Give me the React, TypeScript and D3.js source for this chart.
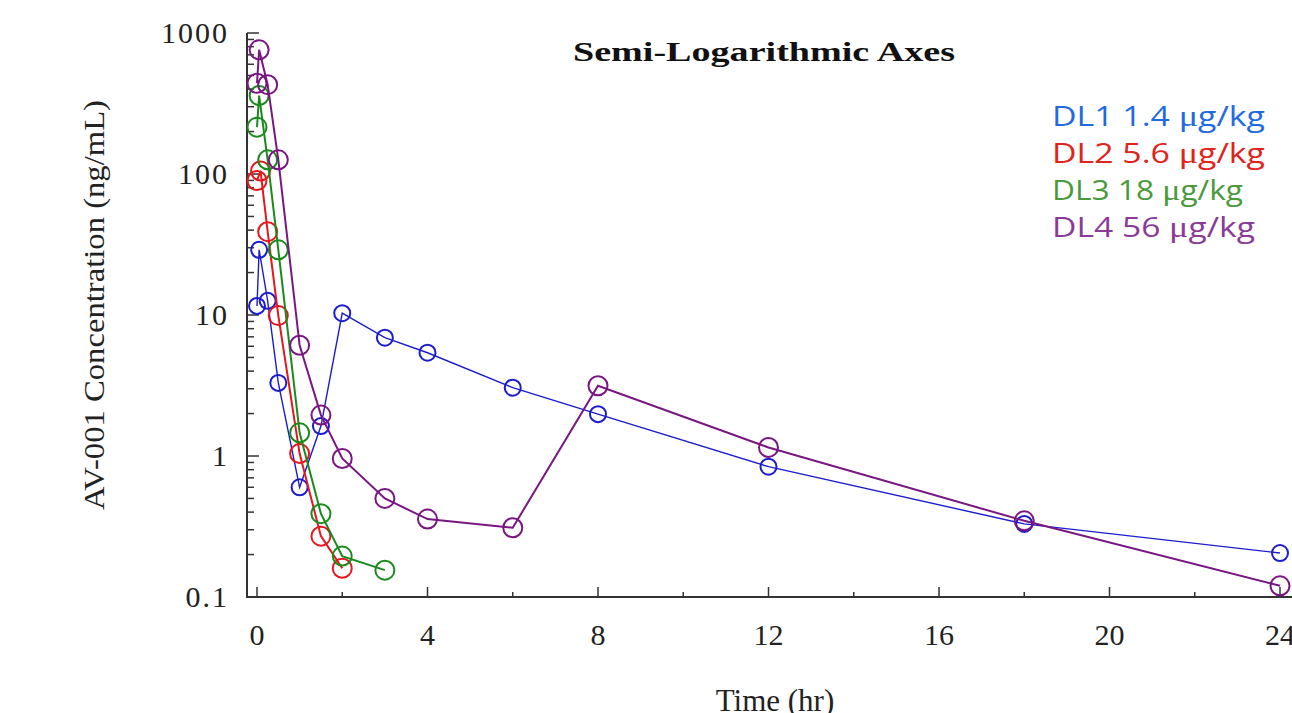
import * as d3 from "d3";

// sampling times (hr) per dose level
const timesDL1 = [0, 0.05, 0.25, 0.5, 1, 1.5, 2, 3, 4, 6, 8, 12, 18, 24];
const concDL1 = [11.6, 29, 12.6, 3.3, 0.6, 1.63, 10.3, 6.9, 5.4, 3.05, 1.98, 0.84, 0.33, 0.205];

const timesDL2 = [0, 0.083, 0.25, 0.5, 1, 1.5, 2];
const concDL2 = [90, 105, 39, 9.9, 1.04, 0.27, 0.16];

const timesDL3 = [0, 0.05, 0.25, 0.5, 1, 1.5, 2, 3];
const concDL3 = [215, 360, 126, 29, 1.46, 0.39, 0.195, 0.155];

const timesDL4 = [0, 0.05, 0.25, 0.5, 1, 1.5, 2, 3, 4, 6, 8, 12, 18, 24];
const concDL4 = [440, 760, 430, 126, 6.1, 1.95, 0.96, 0.5, 0.357, 0.31, 3.15, 1.15, 0.347, 0.12];

const seriesNames = ["DL1 1.4 ", "DL2 5.6 ", "DL3 18 ", "DL4 56 "];
const legendWidths = [213, 213, 191, 203];
const xTicks = [0, 4, 8, 12, 16, 20, 24];
const xMinorTicks = [2, 6, 10, 14, 18, 22];
const yTicks = [0.1, 1, 10, 100, 1000];

const lineColors = ["#1c1ccf", "#e3181e", "#198a1c", "#7a1682"];
const legendColors = ["#1f6be0", "#e0241c", "#4a9a3c", "#8c3a98"];

const W = 1292;
const H = 713;
const serif = "'Liberation Serif', 'Times New Roman', serif";
const sans = "'Open Sans', 'Noto Sans', sans-serif";

export default function App() {
  const x = d3.scaleLinear().domain([0, 24]).range([257, 1280]);
  const y = d3.scaleLog().domain([0.1, 1000]).range([597, 33]);

  const series = [
    { times: timesDL1, conc: concDL1, width: 1.4, r: 8 },
    { times: timesDL2, conc: concDL2, width: 2, r: 9.5 },
    { times: timesDL3, conc: concDL3, width: 2, r: 9.5 },
    { times: timesDL4, conc: concDL4, width: 2, r: 9.5 },
  ];

  const line = d3
    .line<[number, number]>()
    .x((d) => x(d[0]))
    .y((d) => y(d[1]));

  // minor ticks for the log axis: 2..9 in each decade
  const yMinor: number[] = [];
  yTicks.slice(0, -1).forEach((dec) => {
    for (let k = 2; k <= 9; k++) yMinor.push(dec * k);
  });

  const axisColor = "#333";

  return (
    <svg
      width={W}
      height={H}
      style={{ position: "fixed", left: 0, top: 0, background: "#fff" }}
    >
      {/* title */}
      <text
        x={764}
        y={61}
        textAnchor="middle"
        fontFamily={serif}
        fontWeight="bold"
        fontSize={27}
        textLength={382}
        lengthAdjust="spacingAndGlyphs"
        fill="#111"
      >
        Semi-Logarithmic Axes
      </text>

      {/* axes */}
      <line x1={247} x2={1292} y1={597} y2={597} stroke={axisColor} strokeWidth={2} />
      <line x1={247} x2={247} y1={33} y2={598} stroke={axisColor} strokeWidth={2} />

      {xTicks.map((t) => (
        <g key={"xt" + t}>
          <line x1={x(t)} x2={x(t)} y1={597} y2={587} stroke={axisColor} strokeWidth={1.5} />
          <text
            x={x(t)}
            y={645}
            textAnchor="middle"
            fontFamily={serif}
            fontSize={30}
            fill="#222"
          >
            {t}
          </text>
        </g>
      ))}
      {xMinorTicks.map((t) => (
        <line key={"xm" + t} x1={x(t)} x2={x(t)} y1={597} y2={592} stroke={axisColor} strokeWidth={1.5} />
      ))}

      {yTicks.map((v) => (
        <g key={"yt" + v}>
          <line x1={247} x2={259} y1={y(v)} y2={y(v)} stroke={axisColor} strokeWidth={1.5} />
          <text
            x={229}
            y={y(v) + 10}
            textAnchor="end"
            fontFamily={serif}
            fontSize={30}
            letterSpacing={2}
            fill="#222"
          >
            {v}
          </text>
        </g>
      ))}
      {yMinor.map((v) => (
        <line key={"ym" + v} x1={247} x2={254} y1={y(v)} y2={y(v)} stroke={axisColor} strokeWidth={1.5} />
      ))}

      {/* axis titles */}
      <text
        x={775}
        y={711}
        textAnchor="middle"
        fontFamily={serif}
        fontSize={31}
        fill="#222"
      >
        Time (hr)
      </text>
      <text
        transform="translate(104,305) rotate(-90)"
        textAnchor="middle"
        fontFamily={serif}
        fontSize={29}
        textLength={410}
        lengthAdjust="spacingAndGlyphs"
        fill="#222"
      >
        AV-001 Concentration (ng/mL)
      </text>

      {/* series */}
      {series.map((s, i) => {
        const pts = s.times.map((t, j) => [t, s.conc[j]] as [number, number]);
        return (
          <g key={"s" + i}>
            <path d={line(pts) ?? ""} fill="none" stroke={lineColors[i]} strokeWidth={s.width} />
            {pts.map((p, j) => (
              <circle
                key={j}
                cx={x(p[0])}
                cy={y(p[1])}
                r={s.r}
                fill="none"
                stroke={lineColors[i]}
                strokeWidth={2}
              />
            ))}
          </g>
        );
      })}

      {/* legend */}
      {seriesNames.map((name, i) => (
        <text
          key={"lg" + i}
          x={1052}
          y={126 + i * 37}
          fontFamily={sans}
          fontSize={28}
          textLength={legendWidths[i]}
          lengthAdjust="spacingAndGlyphs"
          fill={legendColors[i]}
        >
          {name}
          <tspan fontFamily={serif} fontSize={30}>μ</tspan>
          g/kg
        </text>
      ))}
    </svg>
  );
}
